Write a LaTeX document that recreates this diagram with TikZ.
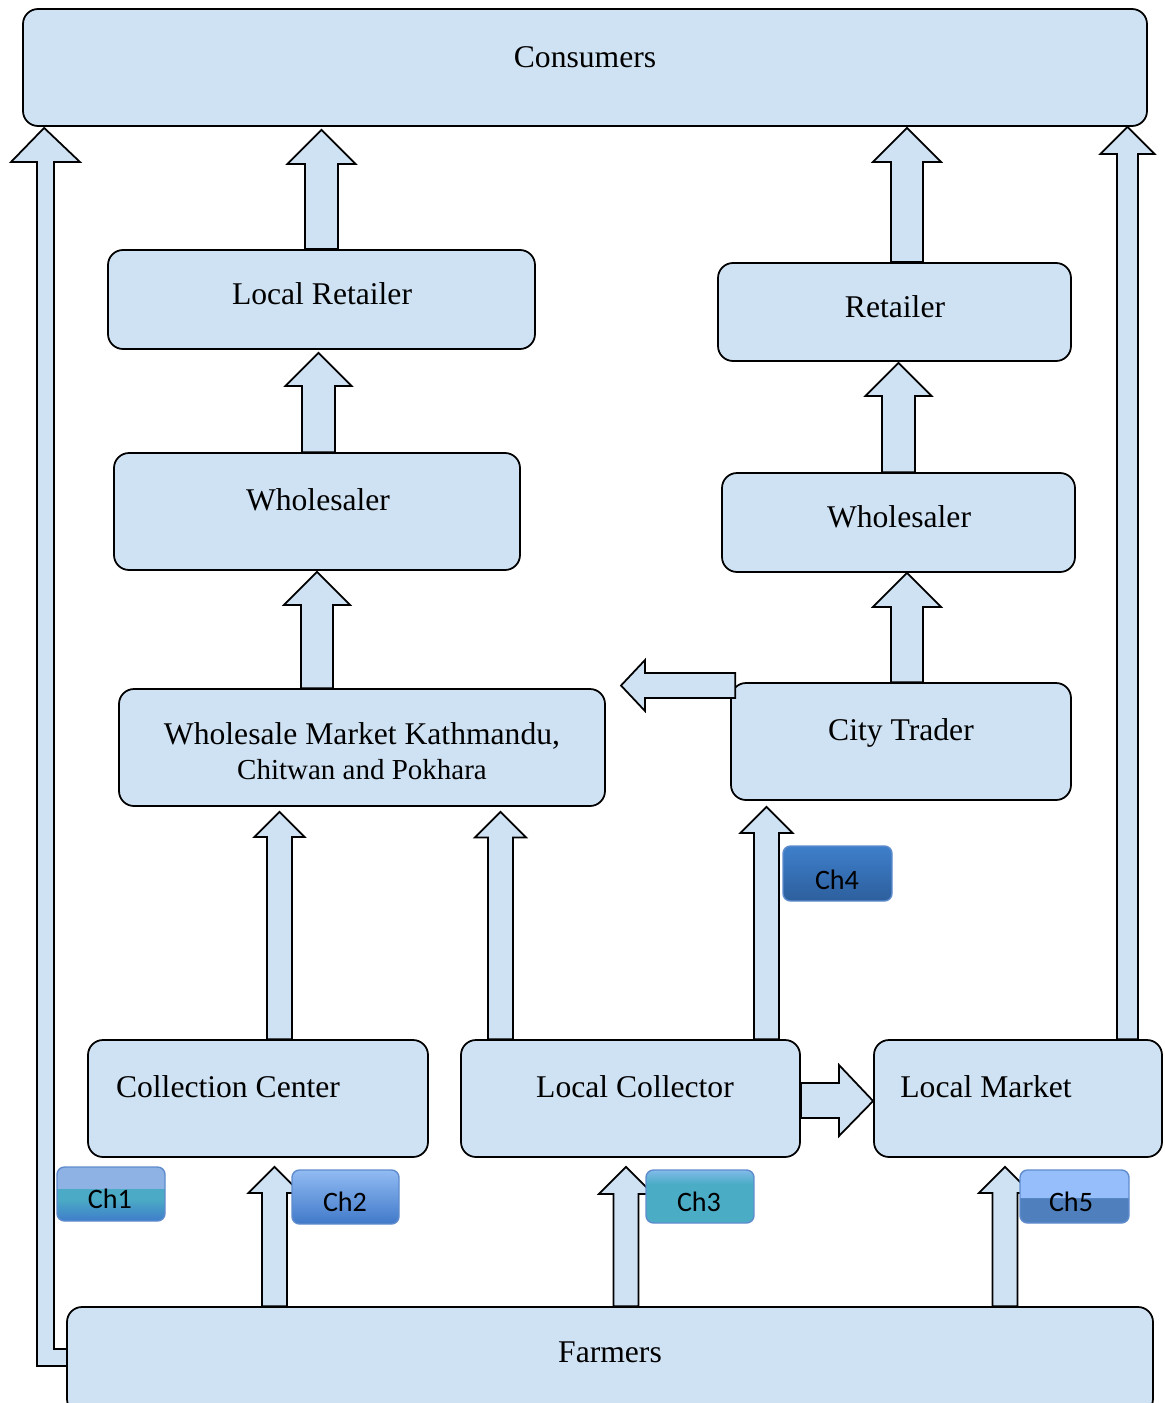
\documentclass[tikz,border=0pt]{standalone}
\usepackage{fontspec}
\setmainfont{Liberation Serif}
\newfontfamily\chfont{Carlito}
\usetikzlibrary{positioning,fit,calc}
\pgfdeclarelayer{background}
\pgfsetlayers{background,main}

\definecolor{boxfill}{RGB}{207,226,243}
\definecolor{chline}{RGB}{95,140,205}
\definecolor{chonetop}{RGB}{142,178,227}
\definecolor{chonemid}{RGB}{75,170,198}
\definecolor{chonebot}{RGB}{62,125,202}
\definecolor{chtwotop}{RGB}{145,187,243}
\definecolor{chtwobot}{RGB}{64,121,201}
\definecolor{chthreetop}{RGB}{130,186,234}
\definecolor{chthreemid}{RGB}{75,172,198}
\definecolor{chfourtop}{RGB}{62,127,203}
\definecolor{chfourbot}{RGB}{45,95,157}
\definecolor{chfivetop}{RGB}{150,190,250}
\definecolor{chfivebot}{RGB}{79,128,189}

\pgfdeclareverticalshading{chone}{100bp}{color(0bp)=(chonebot); color(25bp)=(chonebot); color(45bp)=(chonemid); color(55.3bp)=(chonemid); color(55.5bp)=(chonetop); color(75bp)=(chonetop); color(100bp)=(chonetop)}
\pgfdeclareverticalshading{chtwo}{100bp}{color(0bp)=(chtwobot); color(25bp)=(chtwobot); color(75bp)=(chtwotop); color(100bp)=(chtwotop)}
\pgfdeclareverticalshading{chthree}{100bp}{color(0bp)=(chthreemid); color(25bp)=(chthreemid); color(62bp)=(chthreemid); color(75bp)=(chthreetop); color(100bp)=(chthreetop)}
\pgfdeclareverticalshading{chfour}{100bp}{color(0bp)=(chfourbot); color(25bp)=(chfourbot); color(75bp)=(chfourtop); color(100bp)=(chfourtop)}
\pgfdeclareverticalshading{chfive}{100bp}{color(0bp)=(chfivebot); color(25bp)=(chfivebot); color(48.8bp)=(chfivebot); color(49bp)=(chfivetop); color(75bp)=(chfivetop); color(100bp)=(chfivetop)}

\tikzset{
  box/.style={draw, line width=1pt, fill=boxfill, rounded corners=0.3cm, inner sep=0pt},
  blockarr/.style={draw, line width=1pt, fill=boxfill, line join=miter},
  lbl/.style={anchor=base, inner sep=0pt, font=\fontsize{18}{20}\selectfont},
  chbox/.style={draw=chline, line width=0.8pt, rounded corners=0.15cm, inner sep=0pt},
  chlbl/.style={anchor=base, inner sep=0pt, font=\chfont\fontsize{16}{18}\selectfont}
}

% x, from node, to node, shaft half width, head half width, gap below the box
\newcommand{\upblock}[6]{%
  \draw[blockarr] (#1-#4,0 |- #2.north) -- ($(#1-#4,0 |- #3.south)+(0,#6+#5)$) -- ++(#4-#5,0)
    -- ($(#1,0 |- #3.south)+(0,#6)$) -- ($(#1+#5,0 |- #3.south)+(0,#6+#5)$) -- ++(#4-#5,0)
    -- (#1+#4,0 |- #2.north) -- cycle;}

\begin{document}
\begin{tikzpicture}[x=0.02cm, y=-0.02cm]
        \useasboundingbox (0,0) rectangle (1165,1403);
        % boxes
        \node [box, fit={(23,9) (1147,126)}] (cons) {};
        \node [box, fit={(108,250) (535,349)}] (lr) {};
        \node [box, fit={(718,263) (1071,361)}] (ret) {};
        \node [box, fit={(114,453) (520,570)}] (whl) {};
        \node [box, fit={(722,473) (1075,572)}] (whr) {};
        \node [box, fit={(119,689) (605,806)}] (wm) {};
        \node [box, fit={(731,683) (1071,800)}] (ct) {};
        \node [box, fit={(88,1040) (428,1157)}] (cc) {};
        \node [box, fit={(461,1040) (800,1157)}] (lc) {};
        \node [box, fit={(874,1040) (1162,1157)}] (lm) {};
        \node [box, fit={(67,1307) (1153,1414)}] (farm) {};
        % texts
        \node [lbl] (tcons) at (585,67) {Consumers};
        \node [lbl] (tlr) at (322,304) {Local Retailer};
        \node [lbl] (tret) at (895,317) {Retailer};
        \node [lbl] (twhl) at (318,510) {Wholesaler};
        \node [lbl] (twhr) at (899,527) {Wholesaler};
        \node [lbl] (twm) at (362,744) {Wholesale Market Kathmandu,};
        \node [lbl, font=\fontsize{16.5}{18}\selectfont] (twm2) at (362,779) {Chitwan and Pokhara};
        \node [lbl] (tct) at (901,740) {City Trader};
        \node [lbl] (tcc) at (228,1097) {Collection Center};
        \node [lbl] (tlc) at (635,1097) {Local Collector};
        \node [lbl] (tlm) at (986,1097) {Local Market};
        \node [lbl] (tfarm) at (610,1362) {Farmers};
        % arrows
        \begin{pgfonlayer}{background}
        \upblock{321.5}{lr}{cons}{16.5}{34}{3}
        \upblock{318.5}{whl}{lr}{16.5}{33}{3}
        \upblock{317}{wm}{whl}{16}{33}{1}
        \upblock{279.5}{cc}{wm}{12.5}{25}{5}
        \upblock{500.5}{lc}{wm}{12.5}{25.5}{5}
        \upblock{766.5}{lc}{ct}{12.5}{26}{6}
        \upblock{907}{ct}{whr}{16}{34}{0}
        \upblock{898.5}{whr}{ret}{16.5}{33}{1}
        \upblock{907}{ret}{cons}{16}{34}{1}
        \upblock{274.5}{farm}{cc}{12.5}{26}{9}
        \upblock{626}{farm}{lc}{12.5}{27}{9}
        \upblock{1005}{farm}{lm}{12.5}{26}{9}
        \upblock{1127.5}{lm}{cons}{10.5}{27}{0}
        \draw [blockarr] (farm.west |- 0,1349) -- (54,1349) -- (54,162) -- (80,162)
          -- ($(cons.south west)+(22,1)$) -- (11,162) -- (37,162) -- (37,1366) -- (farm.west |- 0,1366);
        \draw [blockarr] (lc.east |- 0,1083) -- (839,1083) -- (839,1065) -- (lm.west |- 0,1101)
          -- (839,1136) -- (839,1118) -- (lc.east |- 0,1118) -- cycle;
        \end{pgfonlayer}
        \draw [blockarr] ($(ct.west |- 0,673)+(5,0)$) -- (645,673) -- (645,660) -- (621,685.5)
          -- (645,711) -- (645,698) -- ($(ct.west |- 0,698)+(5,0)$) -- cycle;
        % channel labels
        \node [chbox, shading=chone, fit={(57,1167) (165,1221)}] (ch1) {};
        \node [chbox, shading=chtwo, fit={(292,1170) (399,1224)}] (ch2) {};
        \node [chbox, shading=chthree, fit={(646,1170) (754,1223)}] (ch3) {};
        \node [chbox, shading=chfour, fit={(783,846) (892,901)}] (ch4) {};
        \node [chbox, shading=chfive, fit={(1020,1170) (1129,1223)}] (ch5) {};
        \node [chlbl] at (110,1208) {Ch1};
        \node [chlbl] at (345,1211) {Ch2};
        \node [chlbl] at (699,1211) {Ch3};
        \node [chlbl] at (837,889) {Ch4};
        \node [chlbl] at (1071,1211) {Ch5};
      \end{tikzpicture}
\end{document}
